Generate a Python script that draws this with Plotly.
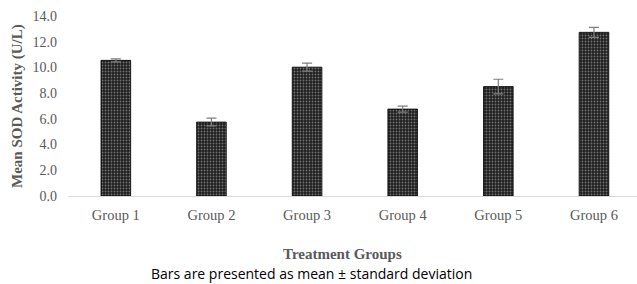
import plotly.graph_objects as go

categories = ["Group 1", "Group 2", "Group 3", "Group 4", "Group 5", "Group 6"]
means = [10.55, 5.75, 10.02, 6.76, 8.51, 12.73]
sds = [0.12, 0.30, 0.31, 0.23, 0.57, 0.39]
y_ticks = [0, 2, 4, 6, 8, 10, 12, 14]
y_tick_labels = [f"{v:.1f}" for v in y_ticks]

serif = "Liberation Serif, Times New Roman, serif"
gray = "#595959"

fig = go.Figure()
fig.add_trace(go.Bar(
    x=categories,
    y=means,
    width=0.31,
    marker=dict(
        color="#1e1e1e",
        line=dict(color="#000000", width=0.8),
        pattern=dict(shape=".", fgcolor="#c8c8c8", bgcolor="#1e1e1e", size=3, solidity=0.3),
    ),
    error_y=dict(type="data", array=sds, visible=True, color="#7f7f7f", thickness=1.2, width=5),
    hoverinfo="skip",
))

fig.update_layout(
    width=637, height=284,
    margin=dict(l=68, r=0, t=16, b=88),
    paper_bgcolor="white", plot_bgcolor="white",
    showlegend=False,
    xaxis=dict(
        range=[-0.5, 5.45],
        showline=True, linecolor="#d9d9d9", linewidth=1,
        showgrid=False, ticks="", zeroline=False,
        tickfont=dict(family=serif, size=14.5, color=gray),
        ticklabelstandoff=6,
    ),
    yaxis=dict(
        range=[0, 14],
        tickvals=y_ticks, ticktext=y_tick_labels,
        showline=False, showgrid=False, zeroline=False, ticks="",
        tickfont=dict(family=serif, size=14, color=gray),
        ticklabelstandoff=10,
    ),
    annotations=[
        dict(text="<b>Mean SOD Activity (U/L)</b>", xref="paper", yref="paper",
             x=-68/569 + 17/569, y=0.5, textangle=-90, showarrow=False,
             font=dict(family=serif, size=15, color=gray), xanchor="center", yanchor="middle"),
        dict(text="<b>Treatment Groups</b>", xref="paper", yref="paper",
             x=(342-68)/569, y=-(254-196)/180, showarrow=False,
             font=dict(family=serif, size=15, color=gray), xanchor="center", yanchor="middle"),
        dict(text="Bars are presented as mean ± standard deviation", xref="paper", yref="paper",
             x=(311-68)/569, y=-(273-196)/180, showarrow=False,
             font=dict(family="Open Sans, Liberation Sans, sans-serif", size=14, color="#000000"),
             xanchor="center", yanchor="middle"),
    ],
)

fig.write_html("out.html", config={"displayModeBar": False},
               post_script="document.body.style.margin='0';document.body.style.padding='0';")
